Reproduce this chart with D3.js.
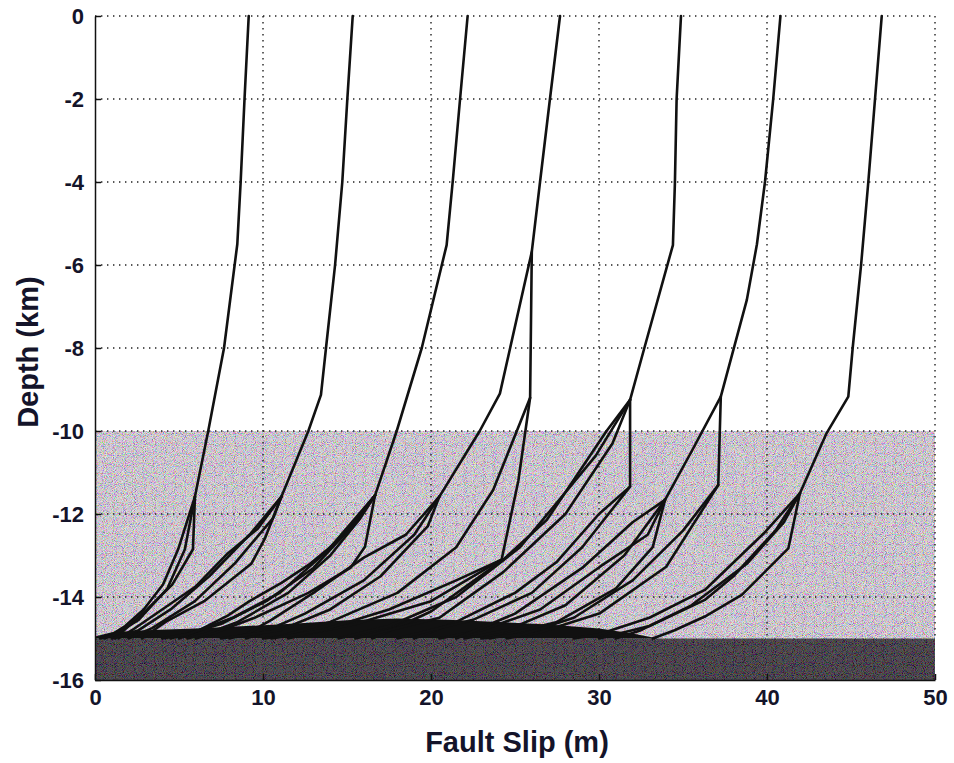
<!DOCTYPE html>
<meta charset="utf-8">
<style>
body {
	margin: 0;
	background-color: white;
}
#svgchart {
	background-color: white;
	font-family: "Liberation Sans", Arial, sans-serif;
	font-weight: bold;
}
.slip {
	fill: none;
	stroke: #111;
	stroke-width: 2.6px;
	stroke-linejoin: round;
	stroke-linecap: round;
}
.grid line {
	stroke: #222;
	stroke-width: 1.4px;
	stroke-dasharray: 1.4 4.6;
}
.axis text {
	fill: #14142a;
	font-size: 22px;
	font-weight: bold;
}
.axis line, .axis path {
	stroke: #111;
	stroke-width: 1.5px;
}
.title {
	fill: #14142a;
	font-size: 29px;
	font-weight: bold;
}
</style>
<html>
	<head>
		<title>Fault slip vs depth</title>
		<script src="https://cdn.jsdelivr.net/npm/d3@7"></script>
	</head>
	<body>
		<svg id="svgchart"></svg>

<script>
'use strict'

const chartWidth  = 954,
      chartHeight = 763,
      margin      = {top: 16, right: 19, bottom: 83, left: 95}

// axes:
const xTicks = [0, 10, 20, 30, 40, 50]
const yTicks = [0, -2, -4, -6, -8, -10, -12, -14, -16]

// depth zones (km): shaded seismogenic layer and dark layer below
const shadedZone = [-10, -15]
const darkZone   = [-15, -16]

// top edge of the black mass where the profiles pile up on the -15 km line:
const denseSlip  = [0, 1, 3, 6, 9, 12, 15, 18, 21, 24, 27, 30, 32, 33.5]
const denseDepth = [-14.95, -14.85, -14.8, -14.76, -14.7, -14.64, -14.56, -14.52, -14.55, -14.6, -14.66, -14.76, -14.88, -15]

// slip profiles [slip (m), depth (km)], grouped by earthquake cycle:
const cycle1 = [
	[[9.15, 0], [8.9, -2], [8.67, -4], [8.47, -5.5], [7.68, -8], [6.74, -10], [5.95, -11.58], [5.83, -12.85], [4.6, -13.7], [3.1, -14.3], [2.0, -14.7], [1.2, -15]],
	[[5.95, -11.58], [4.95, -12.85], [4.05, -13.7], [2.9, -14.3], [1.8, -14.7], [0.6, -15]],
	[[5.95, -11.58], [5.35, -12.85], [4.3, -13.8], [2.6, -14.55], [1.0, -14.95], [0.3, -15]]
]
const cycle2 = [
	[[15.34, 0], [15.02, -2], [14.72, -4], [14.29, -6], [13.75, -8], [13.45, -9.13], [12.7, -10], [11.1, -11.58], [10.1, -12.6], [9.3, -13.2], [6.5, -14.1], [4.2, -14.6], [2.8, -15]],
	[[11.1, -11.58], [10.6, -12.1], [8.3, -13.2], [5.95, -14.1], [3.4, -14.75], [2.0, -15]],
	[[11.1, -11.58], [9.7, -12.35], [7.9, -12.95], [5.95, -13.76], [4.0, -14.3], [2.2, -14.8], [1.4, -15]],
	[[11.1, -11.58], [9.2, -12.5], [6.8, -13.5], [4.5, -14.3], [2.6, -14.8], [1.0, -15]]
]
const cycle3 = [
	[[22.18, 0], [21.73, -2], [21.29, -4], [20.93, -5.52], [19.45, -8], [17.96, -10], [16.67, -11.55], [16.07, -12.79], [15.2, -13.3], [12.7, -13.9], [9.5, -14.5], [7.2, -14.85], [6.0, -15]],
	[[16.67, -11.55], [14.6, -12.6], [12.8, -13.2], [11.1, -13.66], [9.2, -14.1], [7.9, -14.45], [6.2, -14.8], [5.0, -15]],
	[[16.67, -11.55], [15.3, -12.3], [13.0, -13.3], [10.2, -14.1], [7.5, -14.65], [4.5, -15]],
	[[16.67, -11.55], [13.8, -12.9], [11.0, -13.9], [8.2, -14.5], [5.5, -14.9], [4.0, -15]],
	[[16.67, -11.55], [15.8, -12.1], [14.0, -13.0], [11.5, -13.9], [8.5, -14.6], [6.5, -14.9], [5.5, -15]]
]
const cycle4 = [
	[[27.68, 0], [27.08, -2], [26.49, -4], [26.0, -5.68], [24.1, -9.1], [22.9, -10], [20.5, -11.58], [18.5, -12.5], [16.0, -13.05], [13.0, -13.9], [10.5, -14.55], [9.0, -14.9], [8.0, -15]],
	[[26.0, -5.68], [25.9, -9.2], [25.2, -11.2], [24.2, -13.1], [20.0, -14.1], [15.5, -14.65], [12.5, -14.9], [11.5, -15]],
	[[25.9, -9.2], [23.7, -11.42], [21.5, -12.8], [18.0, -13.9], [14.0, -14.6], [11.0, -14.95], [10.0, -15]],
	[[20.5, -11.58], [19.0, -12.5], [16.0, -13.6], [12.5, -14.4], [10.0, -14.85], [9.0, -15]],
	[[20.5, -11.58], [19.8, -12.3], [17.0, -13.5], [14.0, -14.3], [11.0, -14.8], [7.5, -15]],
	[[24.2, -13.1], [21.5, -13.6], [17.5, -14.3], [13.5, -14.8], [10.5, -15]]
]
const cycle5 = [
	[[34.88, 0], [34.62, -2], [34.52, -4], [34.4, -5.52], [32.7, -8], [31.85, -9.25], [31.85, -11.34], [30.0, -12.0], [27.5, -13.15], [25.0, -13.9], [21.5, -14.6], [19.0, -15]],
	[[31.85, -9.25], [30.45, -10], [26.9, -12.14], [24.3, -13.1], [20.0, -14.35], [16.5, -15]],
	[[31.85, -9.25], [29.8, -10.6], [25.3, -12.8], [21.5, -14.0], [17.5, -14.7], [14.5, -15]],
	[[31.85, -9.25], [30.8, -10.3], [28.0, -12.0], [24.3, -13.4], [20.5, -14.5], [15.5, -15]],
	[[31.85, -11.34], [29.0, -12.8], [26.0, -13.9], [22.5, -14.55], [18.0, -15]]
]
const cycle6 = [
	[[40.8, 0], [40.37, -2], [39.88, -4], [39.4, -5.5], [38.8, -6.84], [37.25, -9.17], [37.1, -11.3], [34.0, -13.27], [30.06, -14.39], [26.5, -14.85], [24.5, -15]],
	[[37.25, -9.17], [35.5, -10.5], [33.93, -11.66], [31.5, -13.0], [28.0, -14.2], [24.5, -14.8], [22.0, -15]],
	[[33.93, -11.66], [32.9, -12.5], [30.06, -13.27], [26.5, -14.3], [23.0, -14.8], [20.5, -15]],
	[[33.93, -11.66], [33.2, -12.8], [31.0, -13.8], [27.5, -14.6], [23.5, -15]],
	[[33.93, -11.66], [32.0, -12.2], [29.0, -13.3], [25.0, -14.4], [21.5, -15]],
	[[37.1, -11.3], [35.0, -12.4], [32.0, -13.6], [28.5, -14.5], [25.5, -14.9], [23.0, -15]]
]
const cycle7 = [
	[[46.83, 0], [46.43, -2], [46.03, -4], [45.6, -6], [45.1, -8], [44.84, -9.17], [43.55, -10.05], [41.96, -11.5], [41.27, -12.83], [38.5, -13.95], [36.3, -14.47], [34.5, -14.8], [33.2, -15]],
	[[41.96, -11.5], [40.5, -12.4], [38.0, -13.5], [36.3, -14.07], [33.0, -14.7], [30.0, -15]],
	[[41.96, -11.5], [39.8, -12.47], [36.3, -13.83], [33.0, -14.5], [30.0, -14.9], [28.5, -15]],
	[[41.96, -11.5], [41.0, -12.2], [38.8, -13.2], [35.5, -14.2], [32.5, -14.8], [31.0, -15]]
]
const cycles = [cycle1, cycle2, cycle3, cycle4, cycle5, cycle6, cycle7]

const svg = d3.select("#svgchart")
svg.attr("width", chartWidth)
   .attr("height", chartHeight)

const x = d3.scaleLinear()
	.domain([0, 50])
	.range([margin.left, chartWidth - margin.right])
const y = d3.scaleLinear()
	.domain([0, -16])
	.range([margin.top, chartHeight - margin.bottom])

// speckled texture like the printed screen tone:
const defs = svg.append("defs")
const speckle = defs.append("filter")
	.attr("id", "speckle")
	.attr("x", 0).attr("y", 0).attr("width", "100%").attr("height", "100%")
speckle.append("feTurbulence")
	.attr("type", "fractalNoise")
	.attr("baseFrequency", 1.1)
	.attr("numOctaves", 1)
	.attr("seed", 7)
speckle.append("feColorMatrix")
	.attr("type", "matrix")
	.attr("values", "3.4 0 0 0 -1.2  0 3.4 0 0 -1.2  0 0 3.4 0 -1.2  0 0 0 0 1")

// zones:
const zones = svg.append("g").attr("class", "zones")
function zone(depths, color, noise) {
	const r = {x: x(0), y: y(depths[0]), w: x(50) - x(0), h: y(depths[1]) - y(depths[0])}
	zones.append("rect")
		.attr("x", r.x).attr("y", r.y).attr("width", r.w).attr("height", r.h)
		.attr("fill", color)
	zones.append("rect")
		.attr("x", r.x).attr("y", r.y).attr("width", r.w).attr("height", r.h)
		.attr("filter", "url(#speckle)")
		.attr("opacity", noise)
}
zone(shadedZone, "#dcd0e1", 0.4)
zone(darkZone, "#241c27", 0.28)

// dotted grid (top and right edges are dotted too):
const grid = svg.append("g").attr("class", "grid")
grid.selectAll(".hgrid")
	.data(yTicks.filter(d => d > -16))
	.enter().append("line")
	.attr("x1", x(0)).attr("x2", x(50))
	.attr("y1", d => y(d)).attr("y2", d => y(d))
grid.selectAll(".vgrid")
	.data(xTicks.filter(d => d > 0))
	.enter().append("line")
	.attr("x1", d => x(d)).attr("x2", d => x(d))
	.attr("y1", y(0)).attr("y2", y(-15))

// black pile-up of profiles on the -15 km line:
const dense = denseSlip.map((s, i) => [s, denseDepth[i]])
svg.append("path")
	.datum(dense)
	.attr("fill", "#111")
	.attr("d", d3.area().x(d => x(d[0])).y0(y(-15)).y1(d => y(d[1])))

// slip profiles:
const line = d3.line().x(d => x(d[0])).y(d => y(d[1]))
svg.append("g")
	.selectAll("path")
	.data(cycles.flat())
	.enter().append("path")
	.attr("class", "slip")
	.attr("d", line)

// axes:
const xAxis = d3.axisBottom(x)
	.tickValues(xTicks)
	.tickFormat(d => String(d))
	.tickSizeInner(-6)
	.tickSizeOuter(0)
	.tickPadding(9)
svg.append("g")
	.attr("class", "axis")
	.attr("transform", "translate(0," + y(-16) + ")")
	.call(xAxis)

const yAxis = d3.axisLeft(y)
	.tickValues(yTicks)
	.tickFormat(d => String(d))
	.tickSizeInner(-6)
	.tickSizeOuter(0)
	.tickPadding(11)
svg.append("g")
	.attr("class", "axis")
	.attr("transform", "translate(" + x(0) + ",0)")
	.call(yAxis)

// titles:
svg.append("text")
	.attr("class", "title")
	.attr("x", (x(0) + x(50)) / 2 + 2)
	.attr("y", 752)
	.attr("text-anchor", "middle")
	.text("Fault Slip (m)")
svg.append("text")
	.attr("class", "title")
	.attr("transform", "translate(38," + y(-8.1) + ") rotate(-90)")
	.attr("text-anchor", "middle")
	.text("Depth (km)")
</script>

	</body>
</html>
